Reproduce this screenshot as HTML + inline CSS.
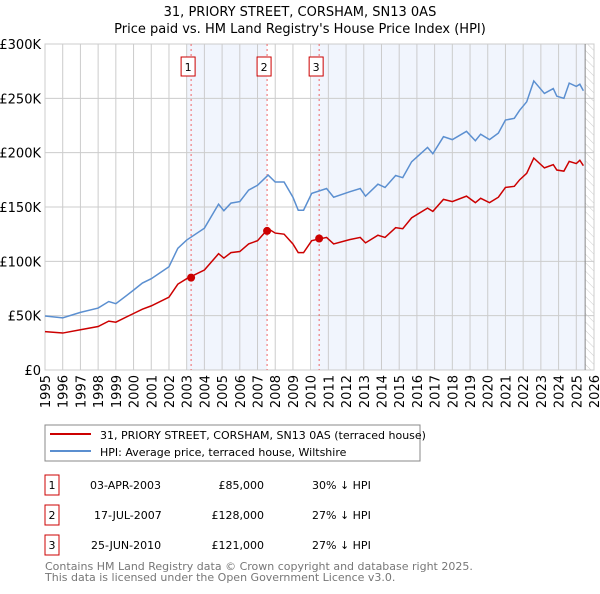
<!DOCTYPE html>
<html><head><meta charset="utf-8"><style>
body{margin:0;background:#fff;font-family:"DejaVu Sans","Liberation Sans",sans-serif;}
svg text{font-family:"DejaVu Sans","Liberation Sans",sans-serif;}
</style></head><body>
<svg id="c" width="600" height="590" xmlns="http://www.w3.org/2000/svg">
<defs><pattern id="hatch" width="6" height="6" patternUnits="userSpaceOnUse" patternTransform="rotate(-45)"><line x1="0" y1="0" x2="0" y2="6" stroke="#ccc" stroke-width="1"/></pattern></defs>
<text x="300" y="16" text-anchor="middle" font-size="13">31, PRIORY STREET, CORSHAM, SN13 0AS</text>
<text x="300" y="33" text-anchor="middle" font-size="13">Price paid vs. HM Land Registry's House Price Index (HPI)</text>
<g id="plot"></g>
<rect x="45" y="425" width="375" height="36" fill="#fff" stroke="#888"/>
<line x1="50" y1="434" x2="91" y2="434" stroke="#cc0000" stroke-width="2"/>
<text x="100" y="439" font-size="11">31, PRIORY STREET, CORSHAM, SN13 0AS (terraced house)</text>
<line x1="50" y1="451" x2="91" y2="451" stroke="#5b8fd0" stroke-width="2"/>
<text x="100" y="456" font-size="11">HPI: Average price, terraced house, Wiltshire</text>
<g font-size="11">
<rect x="45" y="475" width="14" height="20" fill="none" stroke="#cc0000"/><text x="52" y="489" text-anchor="middle">1</text>
<text x="90" y="489">03-APR-2003</text><text x="264" y="489" text-anchor="end">£85,000</text><text x="312" y="489">30% ↓ HPI</text>
<rect x="45" y="505" width="14" height="20" fill="none" stroke="#cc0000"/><text x="52" y="519" text-anchor="middle">2</text>
<text x="94" y="519">17-JUL-2007</text><text x="264" y="519" text-anchor="end">£128,000</text><text x="312" y="519">27% ↓ HPI</text>
<rect x="45" y="535" width="14" height="20" fill="none" stroke="#cc0000"/><text x="52" y="549" text-anchor="middle">3</text>
<text x="91" y="549">25-JUN-2010</text><text x="264" y="549" text-anchor="end">£121,000</text><text x="312" y="549">27% ↓ HPI</text>
</g>
<text x="45" y="570" font-size="11" fill="#777">Contains HM Land Registry data © Crown copyright and database right 2025.</text>
<text x="45" y="581" font-size="11" fill="#777">This data is licensed under the Open Government Licence v3.0.</text>
</svg>
<script>
const hpiYears=[1995,1996,1997,1998,1998.6,1999,2000,2000.5,2001,2002,2002.5,2003,2004,2004.8,2005.1,2005.5,2006,2006.5,2007,2007.6,2008,2008.5,2009,2009.3,2009.6,2010.06,2010.9,2011.3,2012.2,2012.8,2013.1,2013.8,2014.2,2014.8,2015.2,2015.7,2016.6,2016.9,2017.5,2018,2018.8,2019.3,2019.6,2020.1,2020.6,2021,2021.5,2021.8,2022.2,2022.6,2023.2,2023.7,2023.9,2024.3,2024.6,2025,2025.2,2025.4];
const hpiValues=[49.7,48,53,57,63,61,73.5,80,84,95,112,119.6,130.5,152.6,146.6,153.6,155,165.6,170,179.4,173,173,159,147,147,162.5,167,159,164,167,160,171,168,179,177,191.6,204.8,199,214.7,212,219.6,211,217,212,218,230,231.6,239,246.8,266,254.5,259,252,250,264,261,263,257];
const ppValues=[35.3,34,37,40,45,44,52,56,59,67,79,84,92,107,103,108,109,116,119,130,126,125,116,108,108,119,122,116,120,122,117,124,122,131,130,140,149,146,157,155,160,154,158,154,159,168,169,175,181,195,186,189,184,183,192,190,193,188];
const saleYears=[2003.25,2007.54,2010.48];
const salePrices=[85,128,121];
const saleLabels=["1","2","3"];
const yTicks=[0,50,100,150,200,250,300];
const yTickLabels=["£0","£50K","£100K","£150K","£200K","£250K","£300K"];
const xTicks=[1995,1996,1997,1998,1999,2000,2001,2002,2003,2004,2005,2006,2007,2008,2009,2010,2011,2012,2013,2014,2015,2016,2017,2018,2019,2020,2021,2022,2023,2024,2025,2026];
const X0=45,X1=594,Y0=370,Y1=44;
const xs=y=>X0+(y-1995)/(2026-1995)*(X1-X0);
const ys=v=>Y0-v/300*(Y0-Y1);
const NS="http://www.w3.org/2000/svg";
const g=document.getElementById('plot');
function mk(t,a){const e=document.createElementNS(NS,t);for(const k in a)e.setAttribute(k,a[k]);g.appendChild(e);return e;}
let e;
e=mk('rect',{x:X0,y:Y1,width:X1-X0,height:Y0-Y1,fill:'#fff',stroke:'#ccc'});


e=mk('rect',{x:xs(2003.0),y:Y1,width:xs(saleYears[1])-xs(2003.0),height:Y0-Y1,fill:'#eef3fc',opacity:0.8});


e=mk('rect',{x:xs(2010.1),y:Y1,width:xs(2025.5)-xs(2010.1),height:Y0-Y1,fill:'#eef3fc',opacity:0.8});


e=mk('rect',{x:xs(2025.5),y:Y1,width:X1-xs(2025.5),height:Y0-Y1,fill:'url(#hatch)'});


xTicks.forEach(t=>{
 e=mk('line',{x1:xs(t),x2:xs(t),y1:Y1,y2:Y0,stroke:'#ccc'});
 
 
 e=mk('text',{x:0,y:0,'font-size':13,'text-anchor':'end',transform:`translate(${xs(t)+5},${Y0+5}) rotate(-90)`});
 e.textContent=t;
 
 
});
yTicks.forEach((t,i)=>{
 e=mk('line',{x1:X0,x2:X1,y1:ys(t),y2:ys(t),stroke:'#ccc'});
 
 
 e=mk('text',{x:X0-4,y:ys(t)+5,'font-size':13,'text-anchor':'end'});
 e.textContent=yTickLabels[i];
 
 
});
e=mk('line',{x1:xs(2025.5),x2:xs(2025.5),y1:Y1,y2:Y0,stroke:'#888'});


saleYears.forEach((s,i)=>{
 e=mk('line',{x1:xs(s),x2:xs(s),y1:Y1,y2:Y0,stroke:'#e66',"stroke-dasharray":'2,3'});
 
 
 e=mk('rect',{x:xs(s)-10,y:57,width:14,height:19,fill:'#fff',stroke:'#cc0000'});
 
 
 e=mk('text',{x:xs(s)-3,y:71,'font-size':11,'text-anchor':'middle'});
 e.textContent=saleLabels[i];
 
 
});
e=mk('polyline',{points:hpiYears.map((y,i)=>xs(y)+','+ys(hpiValues[i])).join(' '),fill:'none',stroke:'#5b8fd0','stroke-width':1.5});


e=mk('polyline',{points:hpiYears.map((y,i)=>xs(y)+','+ys(ppValues[i])).join(' '),fill:'none',stroke:'#cc0000','stroke-width':1.5});


saleYears.forEach((s,i)=>{
 e=mk('circle',{cx:xs(s),cy:ys(salePrices[i]),r:4,fill:'#cc0000'});
 
 
});
</script>
</body></html>
